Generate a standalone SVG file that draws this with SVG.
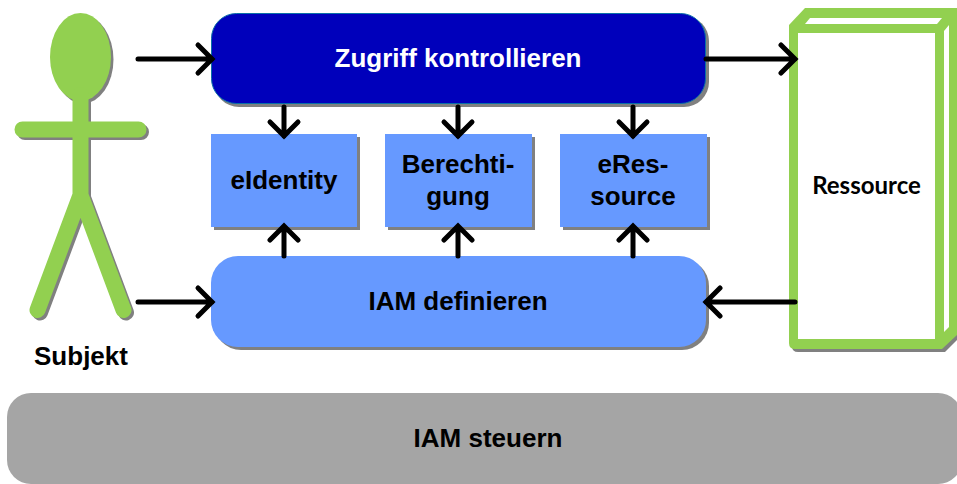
<svg xmlns="http://www.w3.org/2000/svg" width="957" height="484" viewBox="0 0 957 484">
<defs>
<style>
text{font-family:"Liberation Sans",Arial,sans-serif;font-weight:bold;font-size:26px;fill:#000;text-anchor:middle}
.sh{fill:#808080}
.blue{fill:#6699ff}
.green{fill:#92d050}
.limb{fill:none;stroke-width:16;stroke-linecap:round;stroke-linejoin:miter}
.conn{fill:none;stroke:#000;stroke-width:5;stroke-linecap:round;stroke-linejoin:miter}
</style>
</defs>
<rect width="957" height="484" fill="#fff"/>
<g id="subjekt">
<g transform="translate(2.500,2.500)">
<ellipse cx="80.500" cy="57" rx="30.500" ry="44" class="sh"/>
<path d="M80.500 95V195M22.500 129.500H138.500M80.500 195L37.500 310M80.500 195L123.500 310" class="limb" stroke="#808080"/>
</g>
<ellipse cx="80.500" cy="57" rx="30.500" ry="44" class="green"/>
<path d="M80.500 95V195M22.500 129.500H138.500M80.500 195L37.500 310M80.500 195L123.500 310" class="limb" stroke="#92d050"/>
<text x="81" y="365">Subjekt</text>
</g>
<g id="zugriff">
<rect x="214" y="16" width="495" height="91" rx="25" class="sh"/>
<rect x="211.500" y="13.500" width="494" height="90" rx="25" fill="#0000bb" stroke="#0a6fa8" stroke-width="1"/>
<text x="458" y="67" style="fill:#fff">Zugriff kontrollieren</text>
</g>
<g id="eidentity">
<rect x="214" y="137" width="146" height="93" class="sh"/>
<rect x="211" y="134" width="146" height="93" class="blue"/>
<text x="284" y="189">eIdentity</text>
</g>
<g id="berechtigung">
<rect x="388" y="137" width="147" height="93" class="sh"/>
<rect x="385" y="134" width="147" height="93" class="blue"/>
<text x="458" y="173">Berechti-</text>
<text x="458" y="205">gung</text>
</g>
<g id="eressource">
<rect x="563" y="137" width="147" height="93" class="sh"/>
<rect x="560" y="134" width="147" height="93" class="blue"/>
<text x="633" y="173">eRes-</text>
<text x="633" y="205">source</text>
</g>
<g id="iam-definieren">
<rect x="214" y="259" width="495" height="91" rx="27" class="sh"/>
<rect x="211" y="256" width="495" height="91" rx="27" class="blue"/>
<text x="458" y="310">IAM definieren</text>
</g>
<g id="ressource">
<path d="M792 40V346Q792 352 798 352H945L960 337V40Z" class="sh"/>
<path d="M789 25L805 8H957V335L942 349H795Q789 349 789 343Z" class="green"/>
<rect x="798" y="33" width="137" height="306" fill="#fff"/>
<path d="M805 24L810 18H942L937 24Z" fill="#fff"/>
<path d="M944 31L949 25V327L944 332Z" fill="#fff"/>
<text x="866.500" y="194" style="font-family:Lato,'Noto Sans',sans-serif;font-size:24px">Ressource</text>
</g>
<g id="iam-steuern">
<rect x="7" y="393" width="955" height="91" rx="24" fill="#a5a5a5"/>
<text x="488" y="447">IAM steuern</text>
</g>
<g id="connectors" class="conn">
<path d="M138 59H212M198 45L212 59L198 73"/>
<path d="M138 302H212M198 288L212 302L198 316"/>
<path d="M706 59H795M781 45L795 59L781 73"/>
<path d="M795 302H706M720 288L706 302L720 316"/>
<path d="M284 107V136M270 122L284 136L298 122"/>
<path d="M458 107V136M444 122L458 136L472 122"/>
<path d="M633 107V136M619 122L633 136L647 122"/>
<path d="M284 256V226M270 240L284 226L298 240"/>
<path d="M458 256V226M444 240L458 226L472 240"/>
<path d="M633 256V226M619 240L633 226L647 240"/>
</g>
</svg>
